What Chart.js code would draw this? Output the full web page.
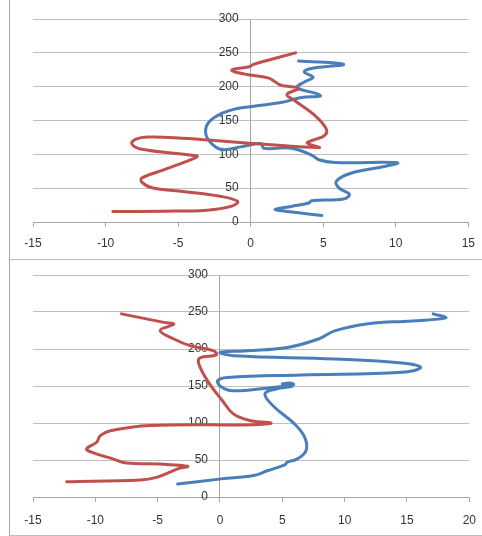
<!DOCTYPE html>
<html>
<head>
<meta charset="utf-8">
<script src="https://cdn.jsdelivr.net/npm/chart.js@4"></script>
<style>
  html, body { margin: 0; padding: 0; background: #fff; overflow: hidden; }
  #wrap { position: relative; width: 482px; height: 536px; overflow: hidden; }
  .frame { position: absolute; left: 9px; width: 473px; border-left: 1px solid #a6a6a6; border-bottom: 1px solid #bfbfbf; }
  canvas { position: absolute; left: 0; }
</style>
</head>
<body>
<div id="wrap">
  <div class="frame" style="top:0;height:259px"></div>
  <div class="frame" style="top:260px;height:275px"></div>
  <canvas id="top" width="484" height="258" style="top:0"></canvas>
  <canvas id="bottom" width="487" height="276" style="top:260px"></canvas>
</div>
<script>
// top chart
const topRedX = [3.1, 1.2, 0.2, -0.1, -1.3, -0.4, 1.2, 1.7, 2.1, 3.3, 2.5, 3.0, 4.4, 5.2, 5.1, 4.3, 3.9, 4.7,
  -5.2, -7.1, -7.9, -8.2, -7.6, -3.7, -3.9, -6.0, -7.5, -7.5, -6.8, -4.8, -2.1, -0.9, -1.3, -3.0, -6.0, -9.5];
const topRedY = [250, 239, 233, 229.5, 224.5, 218.5, 213, 207, 202, 197.5, 188.5, 180, 158, 138, 128, 121, 116.5, 110,
  124.5, 125.5, 122.5, 116, 108, 97.5, 94, 77, 65, 59, 50.5, 45.5, 38, 30.5, 23.5, 17.5, 16, 15.5];
const topBlueX = [3.3, 6.4, 4.1, 3.7, 4.3, 3.7, 3.2, 4.5, 4.8, 3.5, 2.1, 0.2, -1.4, -2.8, -3.1, -2.6, -1.9, -0.7, 0.7,
  0.9, 2.8, 4.2, 4.7, 5.8, 10.1, 9.2, 6.9, 5.9, 6.1, 6.8, 6.4, 4.2, 4.0, 2.8, 1.7, 2.0, 4.9];
const topBlueY = [238, 233, 226.5, 221.5, 214, 207, 198.5, 190, 186, 184, 176.5, 171, 165, 149.5, 131, 114, 107, 111, 116,
  109, 109, 99, 92, 88, 87.5, 82, 72, 60, 50, 41, 34, 31.5, 28, 23, 18.5, 17, 9.5];

// bottom chart
const botRedX = [-7.9, -4.5, -3.7, -4.8, -3.7, -2.4, -0.5, -0.3, -1.6, -1.7, -1.0, 0.2, 1.1, 2.5, 4.1, 2.7,
  -5.6, -8.8, -9.6, -9.9, -10.7, -10.2, -8.6, -7.5, -4.8, -2.6, -3.4, -5.1, -6.4, -12.3];
const botRedY = [247.5, 236, 233.5, 225, 213.5, 204.5, 197.5, 192, 188, 180, 157, 130, 112, 103, 100, 97.7,
  96.5, 89.5, 83, 74, 65, 60, 51.5, 46, 44.5, 41.5, 38, 26.5, 23, 20.5];
const botBlueX = [17.1, 18.1, 15.4, 11.9, 9.2, 7.9, 5.4, 2.2, 0.0, 1.1, 9.2, 14.6, 16.1, 14.6, 6.5, 0.6, -0.2, 0.1, 1.0,
  5.0, 5.9, 5.6, 5.0, 5.8, 4.5, 3.6, 4.4, 6.0, 6.8, 6.9, 6.2, 5.4, 5.2, 3.8, 2.7, 0.1, -3.4];
const botBlueY = [247.5, 242, 238, 234, 224.5, 213.5, 202, 197.5, 195.5, 191, 186.5, 181, 175, 168.5, 165, 161.5, 157, 149, 143.5,
  149.5, 152, 154, 152.5, 150, 146, 139, 121, 98.5, 80.5, 62.5, 51.5, 47, 43.5, 35.5, 29, 24.5, 17.5];

const topXTicks = [-15, 15, 5];
const botXTicks = [-15, 20, 5];
const yTicks = [0, 300, 50];

const RED = '#c0504d';
const BLUE = '#4a7ebb';

function pts(xs, ys) {
  return xs.map((x, i) => ({ x: x, y: ys[i] }));
}

function series(xs, ys, color) {
  return {
    data: pts(xs, ys),
    showLine: true,
    borderColor: color,
    borderWidth: 3,
    pointRadius: 0,
    tension: 0.4,
    borderCapStyle: 'round',
    borderJoinStyle: 'round'
  };
}

function makeChart(id, xt, datasets, pad, axisH, xPad) {
  const font = { family: 'Liberation Sans, Arial, sans-serif', size: 12 };
  return new Chart(document.getElementById(id), {
    type: 'scatter',
    data: { datasets: datasets },
    options: {
      responsive: false,
      devicePixelRatio: 1,
      animation: false,
      layout: { padding: pad },
      plugins: { legend: { display: false }, tooltip: { enabled: false } },
      scales: {
        x: {
          type: 'linear',
          position: 'bottom',
          min: xt[0], max: xt[1],
          ticks: { stepSize: xt[2], color: '#333', font: font, padding: xPad },
          grid: { drawOnChartArea: false, drawTicks: true, tickLength: 5, color: '#a6a6a6' },
          border: { display: true, color: '#a6a6a6' },
          afterFit: s => { s.height = axisH; }
        },
        y: {
          type: 'linear',
          position: { x: 0 },
          min: yTicks[0], max: yTicks[1],
          ticks: {
            stepSize: yTicks[2], color: '#333', font: font,
            // labels sit a little left of the axis line
            callback: v => v + '\u2002\u2002'
          },
          grid: { color: '#bfbfbf', drawTicks: false },
          border: { display: true, color: '#a6a6a6' }
        }
      }
    }
  });
}

makeChart('top', topXTicks, [
  series(topRedX, topRedY, RED),
  series(topBlueX, topBlueY, BLUE)
], { left: 33, right: 14, top: 19, bottom: 10 }, 26, 9);

makeChart('bottom', botXTicks, [
  series(botRedX, botRedY, RED),
  series(botBlueX, botBlueY, BLUE)
], { left: 33, right: 15, top: 15, bottom: 8 }, 31, 11);
</script>
</body>
</html>
